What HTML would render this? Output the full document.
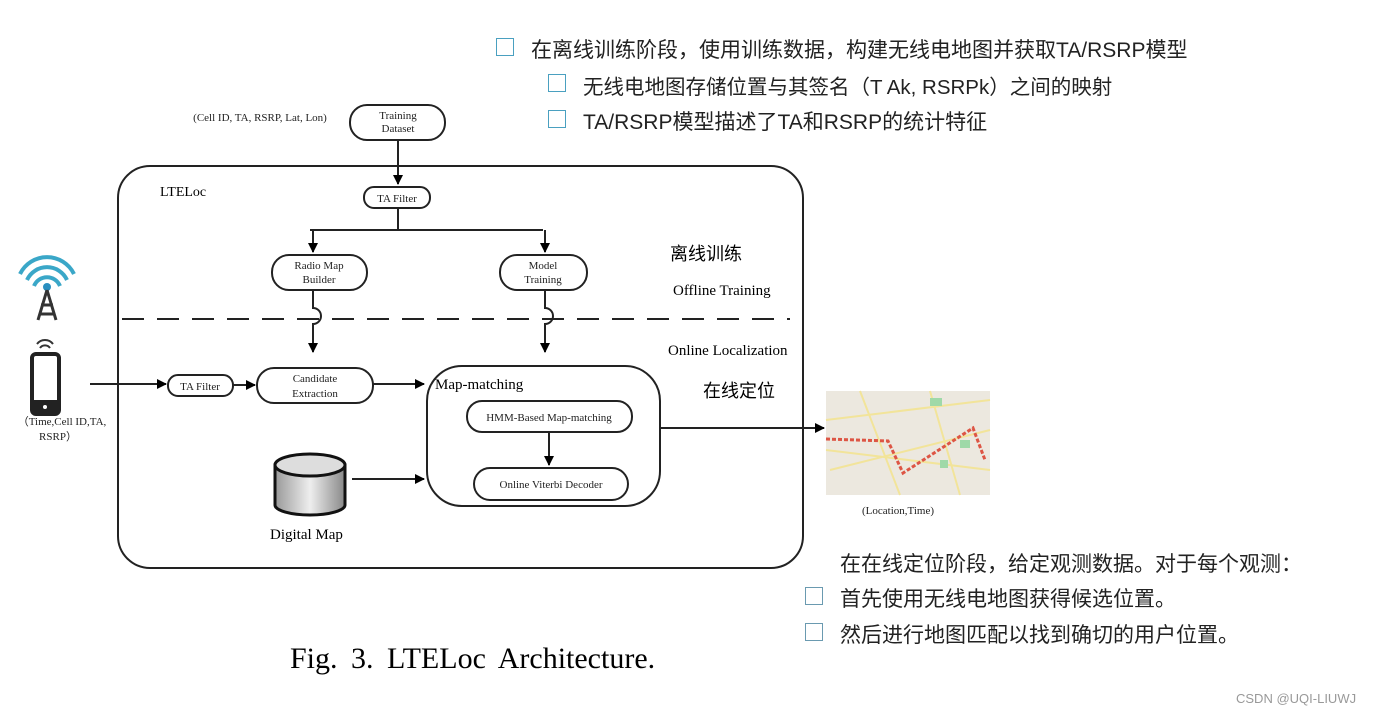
<!DOCTYPE html>
<html><head><meta charset="utf-8"><style>
body{margin:0;background:#fff;width:1374px;height:717px;overflow:hidden;position:relative;font-family:"Liberation Sans","Noto Sans CJK SC",sans-serif}
.t{position:absolute;white-space:nowrap;color:#222}
.cb{position:absolute;width:18px;height:18px;border:1.5px solid #4aa0c0;box-sizing:border-box}
</style></head><body>
<div class="cb" style="left:496px;top:38px"></div>
<div class="t" style="left:531px;top:34px;font-size:21px">在离线训练阶段，使用训练数据，构建无线电地图并获取TA/RSRP模型</div>
<div class="cb" style="left:548px;top:74px"></div>
<div class="t" style="left:583px;top:70px;font-size:20.5px">无线电地图存储位置与其签名（T Ak, RSRPk）之间的映射</div>
<div class="cb" style="left:548px;top:110px"></div>
<div class="t" style="left:583px;top:106px;font-size:21px">TA/RSRP模型描述了TA和RSRP的统计特征</div>
<div class="t" style="left:840px;top:548px;font-size:21px">在在线定位阶段，给定观测数据。对于每个观测：</div>
<div class="cb" style="left:805px;top:587px;border-color:#6a9ab0"></div>
<div class="t" style="left:840px;top:583px;font-size:21px">首先使用无线电地图获得候选位置。</div>
<div class="cb" style="left:805px;top:623px;border-color:#6a9ab0"></div>
<div class="t" style="left:840px;top:619px;font-size:21px">然后进行地图匹配以找到确切的用户位置。</div>
<div class="t" style="left:1236px;top:691px;font-size:13px;color:#999">CSDN @UQI-LIUWJ</div>
<svg width="1374" height="717" style="position:absolute;left:0;top:0" font-family="Liberation Serif,serif">
<defs><marker id="a" markerWidth="10" markerHeight="10" refX="9" refY="5" orient="auto" markerUnits="userSpaceOnUse"><path d="M0,0L10,5L0,10z" fill="#000"/></marker>
<linearGradient id="cy" x1="0" x2="1"><stop offset="0" stop-color="#999"/><stop offset=".5" stop-color="#eee"/><stop offset="1" stop-color="#888"/></linearGradient></defs>
<g fill="none" stroke="#222" stroke-width="2">
<rect x="118" y="166" width="685" height="402" rx="32"/>
<rect x="350" y="105" width="95" height="35" rx="17"/>
<rect x="364" y="187" width="66" height="21" rx="10"/>
<rect x="272" y="255" width="95" height="35" rx="17"/>
<rect x="500" y="255" width="87" height="35" rx="17"/>
<rect x="168" y="375" width="65" height="21" rx="10"/>
<rect x="257" y="368" width="116" height="35" rx="17"/>
<rect x="427" y="366" width="233" height="140" rx="35"/>
<rect x="467" y="401" width="165" height="31" rx="15"/>
<rect x="474" y="468" width="154" height="32" rx="16"/>
<path d="M398,140V184" marker-end="url(#a)"/>
<path d="M398,208V230M310,230H543" />
<path d="M313,290V308a8,8 0 0 1 0,16V352" marker-end="url(#a)"/>
<path d="M545,290V308a8,8 0 0 1 0,16V352" marker-end="url(#a)"/>
<path d="M313,230V252" marker-end="url(#a)"/><path d="M545,230V252" marker-end="url(#a)"/>
<path d="M122,319H790" stroke-dasharray="22,13"/>
<path d="M90,384H166" marker-end="url(#a)"/>
<path d="M233,385H255" marker-end="url(#a)"/>
<path d="M373,384H424" marker-end="url(#a)"/>
<path d="M549,432V465" marker-end="url(#a)"/>
<path d="M352,479H424" marker-end="url(#a)"/>
<path d="M660,428H824" marker-end="url(#a)"/>
</g>
<path d="M275,465V505a35,10 0 0 0 70,0V465z" fill="url(#cy)" stroke="#111" stroke-width="3"/>
<ellipse cx="310" cy="465" rx="35" ry="11" fill="#ddd" stroke="#111" stroke-width="3"/>
<g font-size="11" text-anchor="middle" fill="#222">
<text x="398" y="119">Training</text><text x="398" y="132">Dataset</text>
<text x="397" y="202">TA Filter</text>
<text x="319" y="269">Radio Map</text><text x="319" y="283">Builder</text>
<text x="543" y="269">Model</text><text x="543" y="283">Training</text>
<text x="200" y="390">TA Filter</text>
<text x="315" y="382">Candidate</text><text x="315" y="397">Extraction</text>
<text x="549" y="421">HMM-Based Map-matching</text>
<text x="551" y="488">Online Viterbi Decoder</text>
<text x="260" y="121">(Cell ID, TA, RSRP, Lat, Lon)</text>
<text x="62" y="425">（Time,Cell ID,TA,</text><text x="58" y="440">RSRP）</text>
<text x="898" y="514">(Location,Time)</text>
</g>
<text x="160" y="196" font-size="14">LTELoc</text>
<text x="435" y="389" font-size="15">Map-matching</text>
<text x="270" y="539" font-size="15">Digital Map</text>
<text x="673" y="295" font-size="15">Offline Training</text>
<text x="668" y="355" font-size="15">Online Localization</text>
<text x="670" y="260" font-size="18" font-family="Noto Sans CJK SC,sans-serif">离线训练</text>
<text x="703" y="397" font-size="18" font-family="Noto Sans CJK SC,sans-serif">在线定位</text>
<text x="290" y="668" font-size="30" word-spacing="6">Fig. 3.  LTELoc  Architecture.</text>
<g fill="none" stroke="#3aa7c8" stroke-width="4">
<path d="M34,286a14,14 0 0 1 26,0"/><path d="M27,280a22,22 0 0 1 40,0"/><path d="M20,274a30,30 0 0 1 54,0"/></g>
<circle cx="47" cy="287" r="4" fill="#2a8fc0"/>
<path d="M47,290L38,320M47,290L56,320M41,305H53M39,314H55" stroke="#333" stroke-width="3" fill="none"/>
<rect x="32" y="354" width="27" height="60" rx="4" fill="#fff" stroke="#222" stroke-width="4"/>
<rect x="32" y="400" width="27" height="14" fill="#222"/><circle cx="45" cy="407" r="2" fill="#fff"/>
<path d="M40,348a6,6 0 0 1 10,0M37,344a10,10 0 0 1 16,0" stroke="#333" stroke-width="2" fill="none"/>
<rect x="826" y="391" width="164" height="104" fill="#ece8df"/>
<g stroke="#f2e49a" stroke-width="2"><path d="M826,420L990,400M830,470L990,430M860,391L900,495M930,391L960,495M826,450L990,470"/></g>
<rect x="930" y="398" width="12" height="8" fill="#9fd9a8"/><rect x="960" y="440" width="10" height="8" fill="#9fd9a8"/><rect x="940" y="460" width="8" height="8" fill="#9fd9a8"/>
<path d="M826,439L888,441L903,473L973,428L985,460" stroke="#d54" stroke-width="3" fill="none" stroke-dasharray="4,2"/>
</svg>
</body></html>
